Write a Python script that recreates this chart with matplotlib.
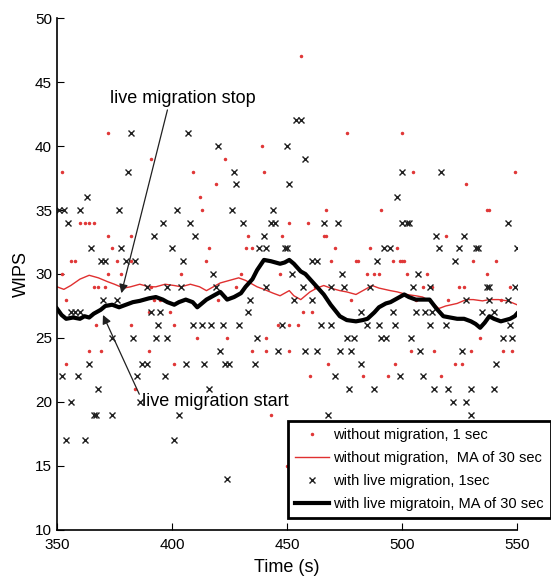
import matplotlib
matplotlib.use("Agg")
import matplotlib.pyplot as plt

plt.rcParams['font.family'] = ['Liberation Sans Narrow', 'Liberation Sans', 'DejaVu Sans']

# without migration, 1 sec samples (red dots)
red_t = [372, 352, 391, 360, 362, 364, 366, 372, 382, 374, 356, 358, 376, 382, 352, 372, 378,
         366, 371, 391, 368, 354, 392, 367, 382, 390, 399, 364, 369, 390, 354, 384,
         439, 423, 409, 440, 419, 412, 413, 433, 448, 416, 432, 435, 415, 404, 430, 447,
         411, 424, 441, 401, 446, 401, 435, 441, 443, 450,
         456, 476, 500, 467, 491, 451, 459, 466, 467, 471, 486, 498, 469, 480, 481, 496, 499,
         485, 488, 490, 457, 461, 451, 455, 451, 468, 460, 483, 494, 497,
         505, 549, 528, 537, 538, 519, 500, 501, 531, 541, 502, 511, 537, 509, 513, 525, 527,
         547, 534, 504, 514, 530, 544, 548, 523, 526, 517,
         395, 420, 428, 462, 478, 506, 520, 543]
red_v = [41, 38, 39, 34, 34, 34, 34, 33, 33, 32, 31, 31, 31, 31, 30, 30, 30,
         29, 29, 29, 29, 28, 28, 26, 26, 27, 27, 24, 24, 24, 23, 21,
         40, 39, 38, 38, 37, 36, 35, 33, 33, 32, 32, 32, 31, 30, 30, 30,
         25, 25, 25, 26, 26, 23, 24, 24, 19, 15,
         47, 41, 41, 35, 35, 34, 34, 33, 33, 32, 32, 32, 31, 31, 31, 31, 31,
         30, 30, 30, 27, 27, 26, 26, 24, 23, 22, 22, 22, 23,
         38, 38, 37, 35, 35, 33, 31, 31, 31, 31, 30, 30, 30, 29, 29, 29, 29,
         29, 25, 24, 24, 24, 24, 24, 23, 23, 22,
         28, 28, 29, 29, 28, 28, 28, 28]

# with live migration, 1 sec samples (black x)
blk_t = [351, 353, 355, 360, 363, 377, 382, 381, 396, 392, 365, 378, 369, 371, 380, 384, 400,
         389, 398, 356, 358, 360, 391, 395, 370, 376, 394, 374, 383, 393, 398, 364, 387, 389,
         352, 359, 385, 397, 368, 356, 386, 366, 367, 374, 354, 362,
         407, 420, 450, 427, 428, 451, 402, 426, 444, 408, 431, 443, 445, 410, 440, 438, 441, 449,
         405, 418, 404, 419, 441, 434, 433, 409, 413, 417, 422, 429, 448, 437, 421, 446,
         406, 414, 423, 425, 436, 416, 403, 401, 424,
         454, 456, 458, 500, 498, 466, 472, 500, 450, 492, 495, 461, 463, 489, 452, 474,
         457, 469, 475, 486, 453, 461, 482, 496, 465, 469, 485, 490, 497, 476, 479, 491, 493,
         458, 463, 473, 478, 482, 471, 499, 477, 488, 468, 530,
         517, 502, 503, 546, 515, 527, 516, 525, 532, 533, 550, 523, 507, 505, 512, 537, 538, 549,
         528, 538, 546, 506, 510, 513, 535, 540, 512, 519, 547, 504, 544, 548, 508, 526, 541,
         509, 514, 520, 530, 540, 522, 528]
blk_v = [35, 35, 34, 35, 36, 35, 41, 38, 34, 33, 32, 32, 31, 31, 31, 31, 32,
         29, 29, 27, 27, 27, 27, 27, 28, 28, 26, 25, 25, 25, 25, 23, 23, 23,
         22, 22, 22, 22, 21, 20, 20, 19, 19, 19, 17, 17,
         41, 40, 40, 38, 37, 37, 35, 35, 35, 34, 34, 34, 34, 33, 33, 32, 32, 32,
         31, 30, 29, 29, 29, 28, 27, 26, 26, 26, 26, 26, 26, 25, 24, 24,
         23, 23, 23, 23, 23, 21, 19, 17, 14,
         42, 42, 39, 38, 36, 34, 34, 34, 32, 32, 32, 31, 31, 31, 30, 30,
         29, 29, 29, 29, 28, 28, 27, 27, 26, 26, 26, 26, 26, 25, 25, 25, 25,
         24, 24, 24, 24, 23, 22, 22, 21, 21, 19, 19,
         38, 34, 34, 34, 33, 33, 32, 32, 32, 32, 32, 31, 30, 29, 29, 29, 29, 29,
         28, 28, 28, 27, 27, 27, 27, 27, 26, 26, 26, 25, 25, 25, 24, 24, 23,
         22, 21, 21, 21, 21, 20, 20]

# moving averages of 30 sec
red_ma_t = [350, 353, 356, 360, 364, 368, 372, 375, 379, 382, 386, 390, 393, 397, 401, 404, 408,
            412, 415, 418, 421, 425, 429, 432, 435, 437, 440, 444, 447, 451, 453, 456, 458, 460,
            463, 466, 469, 473, 476, 480, 483, 487, 490, 495, 498, 502, 506, 509, 513, 516, 519,
            524, 528, 531, 535, 538, 542, 546, 550]
red_ma_v = [29.0, 28.8, 29.1, 29.6, 29.9, 29.7, 29.4, 29.2, 28.9, 29.0, 29.2, 29.0, 29.0, 29.2,
            29.1, 29.0, 29.2, 29.0, 28.7, 29.0, 29.3, 29.5, 29.7, 29.5, 29.2, 29.0, 28.8, 28.5,
            28.3, 28.7, 28.3, 28.0, 28.3, 28.6, 28.9, 29.1, 28.9, 28.7, 28.6, 28.4, 28.7, 29.1,
            28.9, 28.7, 28.6, 28.4, 28.3, 28.2, 27.8, 27.3, 27.5, 27.7, 28.0, 28.0, 27.9, 28.0,
            28.0, 27.9, 27.6]
blk_ma_t = [350, 352, 354, 357, 360, 362, 364, 366, 369, 371, 374, 377, 380, 383, 386, 390, 393,
            396, 398, 401, 403, 406, 409, 411, 413, 415, 418, 421, 424, 427, 430, 432, 435, 437,
            440, 443, 447, 449, 451, 453, 456, 458, 462, 466, 469, 473, 476, 480, 483, 485, 488,
            490, 493, 495, 498, 501, 503, 506, 509, 512, 515, 518, 521, 524, 527, 530, 532, 534,
            536, 538, 540, 543, 545, 547, 549, 550]
blk_ma_v = [27.3, 26.8, 26.5, 26.6, 26.5, 26.7, 26.6, 26.9, 27.2, 27.5, 27.6, 27.4, 27.6, 27.8,
            27.9, 28.1, 28.2, 28.0, 27.8, 27.6, 27.8, 28.0, 27.8, 27.4, 27.7, 28.0, 28.3, 28.6,
            28.0, 28.2, 28.5, 29.0, 29.6, 30.3, 31.1, 31.0, 30.8, 30.9, 31.1, 30.8, 30.2, 30.0,
            29.2, 28.4, 27.6, 26.7, 26.4, 26.3, 26.4, 26.5, 27.0, 27.4, 27.7, 27.8, 28.1, 28.4,
            28.2, 28.0, 28.0, 28.0, 27.3, 26.7, 26.6, 26.5, 26.5, 26.3, 26.1, 25.8, 26.2, 26.7,
            26.5, 26.3, 26.4, 26.5, 26.7, 26.9]

fig = plt.figure(figsize=(5.51, 5.81), dpi=100)
ax = fig.add_axes([0.1034, 0.0878, 0.8348, 0.8812])

ax.plot(red_t, red_v, linestyle='none', marker='.', markersize=3, color='#e03838',
        label='without migration, 1 sec')
ax.plot(red_ma_t, red_ma_v, color='#e03030', linewidth=1,
        label='without migration,  MA of 30 sec')
ax.plot(blk_t, blk_v, linestyle='none', marker='x', markersize=5, markeredgewidth=1,
        color='#202020', label='with live migration, 1sec')
ax.plot(blk_ma_t, blk_ma_v, color='black', linewidth=3,
        label='with live migratoin, MA of 30 sec')

ax.set_xlim(350, 550)
ax.set_ylim(10, 50)
ax.set_xticks([350, 400, 450, 500, 550])
ax.set_yticks([10, 15, 20, 25, 30, 35, 40, 45, 50])
ax.tick_params(direction='in', length=5, labelsize=11)
ax.tick_params(axis='x', pad=6)
ax.spines['top'].set_visible(False)
ax.spines['right'].set_visible(False)
ax.spines['left'].set_linewidth(1.2)
ax.spines['bottom'].set_linewidth(1.2)
ax.set_xlabel('Time (s)', fontsize=13, labelpad=5)
ax.set_ylabel('WIPS', fontsize=13)

ax.annotate('live migration stop', xy=(378, 28.5), xytext=(373, 43.7),
            fontsize=13, va='center', ha='left',
            arrowprops=dict(arrowstyle='-|>', color='#202020', lw=0.9,
                            shrinkA=0, shrinkB=0, relpos=(0.4, 0.0)))
ax.annotate('live migration start', xy=(370, 26.8), xytext=(387, 20.0),
            fontsize=13, va='center', ha='left',
            arrowprops=dict(arrowstyle='-|>', color='#202020', lw=0.9,
                            shrinkA=0, shrinkB=0, relpos=(0.0, 0.6)))

leg = ax.legend(loc='lower right', bbox_to_anchor=(1.074, 0.023), fontsize=10.5,
                fancybox=False, framealpha=1, edgecolor='black', borderpad=0.5,
                labelspacing=0.62, handlelength=2.3, handletextpad=0.3, borderaxespad=0)
leg.get_frame().set_linewidth(2)
leg.set_clip_on(False)

fig.savefig('out.png', dpi=100)
